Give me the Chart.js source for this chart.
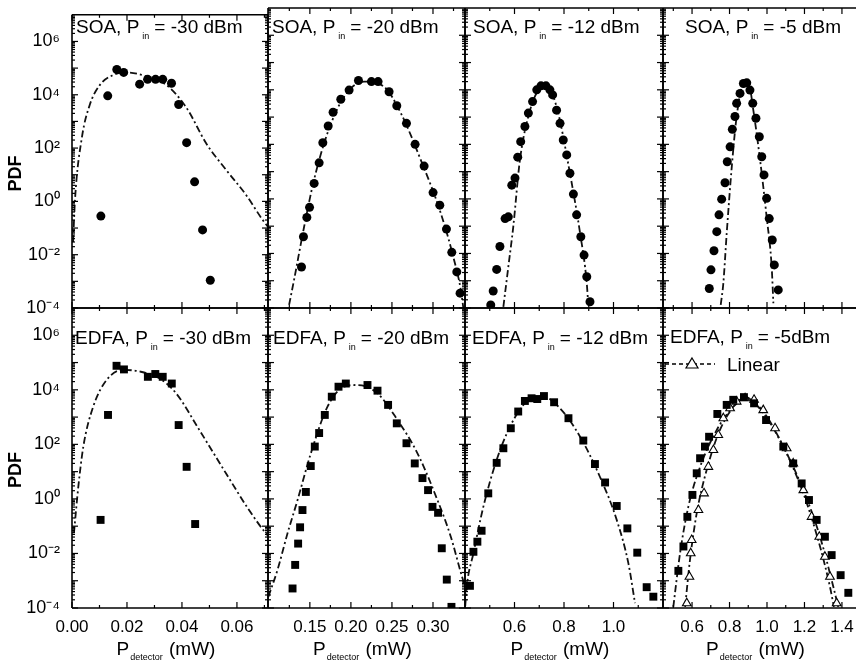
<!DOCTYPE html>
<html lang="en">
<head>
<meta charset="UTF-8">
<title>PDF of detected power - SOA and EDFA</title>
<script src="https://cdn.jsdelivr.net/npm/chart.js"></script>
<style>
  body { margin: 0; background: #fff; }
  .wrap { position: relative; width: 856px; height: 666px; overflow: hidden; }
  .wrap canvas { position: absolute; left: 0; top: 0; }
</style>
</head>
<body>
<div class="wrap">
  <canvas id="p1" width="856" height="666"></canvas>
  <canvas id="p2" width="856" height="666"></canvas>
  <canvas id="p3" width="856" height="666"></canvas>
  <canvas id="p4" width="856" height="666"></canvas>
  <canvas id="p5" width="856" height="666"></canvas>
  <canvas id="p6" width="856" height="666"></canvas>
  <canvas id="p7" width="856" height="666"></canvas>
  <canvas id="p8" width="856" height="666"></canvas>
</div>
<script>
  // --- data ---
  const yTicks = [1e-4, 1e-2, 1, 1e2, 1e4, 1e6];
  const yLabels = ['10⁻⁴', '10⁻²', '10⁰', '10²', '10⁴', '10⁶'];

  const xTicks30 = [0, 0.02, 0.04, 0.06];
  const xLabels30 = ['0.00', '0.02', '0.04', '0.06'];
  const xTicks20 = [0.15, 0.20, 0.25, 0.30];
  const xLabels20 = ['0.15', '0.20', '0.25', '0.30'];
  const xTicks12 = [0.6, 0.8, 1.0];
  const xLabels12 = ['0.6', '0.8', '1.0'];
  const xTicks5 = [0.6, 0.8, 1.0, 1.2, 1.4];
  const xLabels5 = ['0.6', '0.8', '1.0', '1.2', '1.4'];

  // SOA, Pin = -30 dBm
  const soa30X = [0.0105, 0.0130, 0.0163, 0.0188, 0.0246, 0.0275, 0.0304, 0.0330, 0.0362, 0.0388, 0.0417, 0.0446, 0.0475, 0.0503];
  const soa30Y = [0.28, 9.1e3, 8.9e4, 6.9e4, 2.5e4, 3.8e4, 3.8e4, 3.8e4, 2.7e4, 4.3e3, 160, 5.4, 0.085, 1.1e-3];
  const soa30FitX = [0.0004, 0.0011, 0.0036, 0.0065, 0.0101, 0.0148, 0.0199, 0.0257, 0.0344, 0.0416, 0.0489, 0.0561, 0.0634, 0.0691, 0.0713];
  const soa30FitY = [0.03, 1.2, 250, 4300, 2.3e4, 5.4e4, 6.9e4, 5.4e4, 2.3e4, 3300, 145, 15, 1.7, 0.22, 0.11];

  // SOA, Pin = -20 dBm
  const soa20X = [0.1398, 0.1422, 0.1463, 0.1496, 0.1552, 0.1613, 0.1658, 0.1723, 0.1783, 0.1877, 0.1978, 0.2092, 0.2250, 0.2331, 0.2465, 0.2559, 0.2677, 0.2782, 0.2892, 0.3001, 0.3083, 0.3164, 0.3229, 0.3290, 0.3330];
  const soa20Y = [3.2e-3, 0.041, 0.21, 0.49, 3.7, 21, 115, 470, 1500, 4500, 9800, 2.2e4, 2.0e4, 2.0e4, 8500, 2600, 590, 100, 16, 1.7, 0.59, 0.078, 0.011, 2.1e-3, 3.5e-4];
  const soa20FitX = [0.1247, 0.1308, 0.1430, 0.1550, 0.1715, 0.1917, 0.2160, 0.2404, 0.2608, 0.2851, 0.3095, 0.3257, 0.3339, 0.3370];
  const soa20FitY = [1.3e-4, 1.1e-3, 0.095, 4.9, 260, 5600, 2.0e4, 1.3e4, 1400, 27, 0.30, 5.8e-3, 4.6e-4, 1.0e-4];

  // SOA, Pin = -12 dBm
  const soa12X = [0.504, 0.514, 0.528, 0.541, 0.562, 0.575, 0.589, 0.602, 0.613, 0.625, 0.642, 0.656, 0.673, 0.690, 0.707, 0.727, 0.743, 0.754, 0.770, 0.784, 0.797, 0.811, 0.824, 0.838, 0.851, 0.868, 0.881, 0.892, 0.905];
  const soa12Y = [1.3e-4, 4.2e-4, 2.6e-3, 0.018, 0.19, 0.22, 3.2, 5.8, 34, 126, 450, 1400, 3700, 1.0e4, 1.4e4, 1.4e4, 1.0e4, 6500, 1800, 590, 145, 41, 8.7, 1.5, 0.26, 0.041, 8.7e-3, 1.4e-3, 1.7e-4];
  const soa12FitX = [0.555, 0.575, 0.595, 0.622, 0.663, 0.703, 0.730, 0.770, 0.824, 0.865, 0.892, 0.898];
  const soa12FitY = [1.1e-4, 3.2e-3, 0.095, 27, 1800, 1.15e4, 1.4e4, 2400, 8.7, 0.055, 8.1e-4, 1.3e-4];

  // SOA, Pin = -5 dBm
  const soa5X = [0.692, 0.701, 0.717, 0.732, 0.744, 0.758, 0.776, 0.788, 0.803, 0.815, 0.829, 0.838, 0.856, 0.874, 0.892, 0.909, 0.924, 0.941, 0.959, 0.972, 0.984, 0.998, 1.012, 1.028, 1.039, 1.060];
  const soa5Y = [5.2e-4, 2.5e-3, 0.0126, 0.063, 0.26, 0.98, 3.9, 23, 81, 355, 1050, 3200, 7400, 1.7e4, 1.8e4, 9800, 3200, 910, 190, 35, 7.6, 1.05, 0.19, 0.031, 3.8e-3, 4.6e-4];
  const soa5FitX = [0.753, 0.767, 0.785, 0.812, 0.838, 0.874, 0.900, 0.927, 0.963, 0.998, 1.025, 1.034];
  const soa5FitY = [1.3e-4, 8.1e-4, 0.055, 15, 1050, 1.7e4, 2.0e4, 1800, 27, 0.22, 3.2e-3, 1.5e-4];

  // EDFA, Pin = -30 dBm
  const edfa30X = [0.0104, 0.0131, 0.0162, 0.0189, 0.0276, 0.0303, 0.0330, 0.0363, 0.0388, 0.0417, 0.0448];
  const edfa30Y = [0.17, 1200, 7.6e4, 5.6e4, 3.0e4, 3.8e4, 3.0e4, 1.7e4, 510, 15, 0.12];
  const edfa30FitX = [0.0007, 0.0023, 0.0041, 0.0077, 0.0126, 0.0186, 0.0246, 0.0319, 0.0379, 0.0463, 0.0560, 0.0644, 0.0705, 0.0713];
  const edfa30FitY = [0.055, 2.8, 81, 2400, 2.3e4, 5.4e4, 4.7e4, 2.6e4, 7400, 340, 8.7, 0.39, 0.055, 0.045];

  // EDFA, Pin = -20 dBm
  const edfa20X = [0.1289, 0.1321, 0.1357, 0.1381, 0.1410, 0.1451, 0.1511, 0.1560, 0.1613, 0.1682, 0.1767, 0.1849, 0.1938, 0.2202, 0.2324, 0.2453, 0.2559, 0.2677, 0.2778, 0.2872, 0.2940, 0.2994, 0.3062, 0.3107, 0.3168, 0.3225];
  const edfa20Y = [5.2e-4, 3.8e-3, 0.023, 0.091, 0.39, 1.8, 16, 83, 260, 1200, 5600, 1.3e4, 1.7e4, 1.5e4, 9300, 2800, 590, 110, 20, 5.8, 2.1, 0.51, 0.31, 0.0155, 1.1e-3, 1.1e-4];
  const edfa20FitX = [0.0995, 0.1106, 0.1228, 0.1350, 0.1512, 0.1715, 0.1917, 0.2080, 0.2324, 0.2568, 0.2811, 0.3054, 0.3217, 0.3330, 0.3390];
  const edfa20FitY = [2.6e-4, 2.5e-3, 0.055, 0.91, 47, 2400, 1.3e4, 1.5e4, 7400, 780, 47, 0.91, 0.041, 2.5e-3, 6e-4];

  // EDFA, Pin = -12 dBm
  const edfa12X = [0.420, 0.434, 0.450, 0.467, 0.494, 0.528, 0.555, 0.585, 0.615, 0.642, 0.669, 0.692, 0.719, 0.760, 0.818, 0.878, 0.925, 0.966, 1.013, 1.056, 1.096, 1.134, 1.161];
  const edfa12Y = [6.5e-4, 0.0115, 0.027, 0.068, 1.6, 21, 72, 390, 1600, 3900, 4900, 4600, 5900, 3500, 910, 138, 19, 4.0, 0.55, 0.083, 0.0107, 5.8e-4, 2.6e-4];
  const edfa12FitX = [0.401, 0.407, 0.434, 0.474, 0.528, 0.582, 0.649, 0.716, 0.784, 0.865, 0.945, 1.013, 1.060, 1.087];
  const edfa12FitY = [1.2e-4, 6.0e-4, 0.0102, 0.51, 27, 450, 3700, 5600, 2100, 190, 6.5, 0.17, 4.4e-3, 1.5e-4];

  // EDFA, Pin = -5 dBm (filled) and Linear (open triangles)
  const edfa5X = [0.527, 0.554, 0.575, 0.602, 0.625, 0.643, 0.669, 0.691, 0.735, 0.785, 0.820, 0.877, 0.931, 0.995, 1.087, 1.140, 1.185, 1.224, 1.265, 1.309, 1.345, 1.393, 1.434];
  const edfa5Y = [2.3e-3, 0.018, 0.22, 1.4, 8.7, 31, 83, 190, 1300, 2800, 4300, 5400, 3200, 780, 83, 20, 3.7, 0.91, 0.17, 0.041, 8.7e-3, 1.6e-3, 3.6e-4];
  const edfa5FitX = [0.500, 0.536, 0.580, 0.643, 0.732, 0.820, 0.883, 0.980, 1.087, 1.194, 1.283, 1.354, 1.380];
  const edfa5FitY = [1.1e-4, 0.0102, 0.51, 15, 340, 2400, 5400, 1400, 83, 2.1, 0.041, 6.0e-4, 1.1e-4];
  const linX = [0.572, 0.586, 0.593, 0.598, 0.634, 0.664, 0.687, 0.714, 0.740, 0.767, 0.803, 0.838, 0.883, 0.931, 0.980, 1.043, 1.105, 1.140, 1.194, 1.238, 1.279, 1.309, 1.336, 1.372];
  const linY = [1.5e-4, 1.4e-3, 0.0102, 0.031, 0.39, 1.6, 15, 62, 220, 910, 2100, 3700, 4900, 4300, 1800, 390, 72, 20, 2.1, 0.22, 0.041, 7.6e-3, 1.4e-3, 1.5e-4];
  const linFitX = [0.563, 0.589, 0.625, 0.678, 0.749, 0.838, 0.892, 0.980, 1.087, 1.194, 1.283, 1.336, 1.357];
  const linFitY = [1.1e-4, 5.8e-3, 0.30, 11.5, 340, 3200, 4900, 1600, 83, 1.6, 0.018, 6.0e-4, 1.1e-4];

  // --- drawing ---
  const W = 856, H = 666;
  const FONT = "'Liberation Sans', Arial, sans-serif";
  Chart.defaults.color = '#000';
  Chart.defaults.font.family = FONT;

  function pts(xs, ys) {
    return xs.map((x, i) => ({ x: x, y: ys[i] }));
  }

  function dots(xs, ys, style) {
    return {
      type: 'scatter', data: pts(xs, ys), showLine: false,
      pointStyle: style, pointRadius: style === 'rect' ? 5.6 : 4.5,
      backgroundColor: '#000', borderColor: '#000', borderWidth: 0
    };
  }

  function openTri(xs, ys) {
    return {
      type: 'scatter', data: pts(xs, ys), showLine: false,
      pointStyle: 'triangle', pointRadius: 5,
      backgroundColor: '#fff', borderColor: '#000', borderWidth: 1.1
    };
  }

  function fit(xs, ys) {
    return {
      type: 'line', data: pts(xs, ys), showLine: true, pointRadius: 0,
      borderColor: '#111', borderWidth: 1.8, borderDash: [7, 3, 2, 3],
      cubicInterpolationMode: 'monotone', fill: false
    };
  }

  // draws a run of text pieces (for subscripts), returns end x
  function drawRuns(ctx, x, y, runs) {
    runs.forEach(r => {
      x += r.pre || 0;
      ctx.font = r.font;
      ctx.fillText(r.t, x, y + (r.dy || 0));
      x += ctx.measureText(r.t).width;
    });
    return x;
  }

  function runsWidth(ctx, runs) {
    let w = 0;
    runs.forEach(r => { ctx.font = r.font; w += (r.pre || 0) + ctx.measureText(r.t).width; });
    return w;
  }

  const panelDecor = {
    id: 'panelDecor',
    afterDraw(chart, args, o) {
      const ctx = chart.ctx, a = chart.chartArea;
      const xs = chart.scales.x, ys = chart.scales.y;
      const line = (x1, y1, x2, y2) => { ctx.beginPath(); ctx.moveTo(x1, y1); ctx.lineTo(x2, y2); ctx.stroke(); };
      ctx.save();
      ctx.strokeStyle = '#000';
      ctx.fillStyle = '#000';

      // frame
      ctx.lineWidth = 1.6;
      line(a.left, a.top, a.right, a.top);
      line(a.left, a.bottom, a.right, a.bottom);
      line(a.left, a.top, a.left, a.bottom);
      if (!o.lastCol) line(a.right, a.top, a.right, a.bottom);

      // inward ticks
      ctx.lineWidth = 1.2;
      for (let k = -4; k < 7; k++) {
        for (let m = 1; m < 10; m++) {
          const py = ys.getPixelForValue(m * Math.pow(10, k));
          const len = m === 1 ? 6 : 3;
          line(a.left, py, a.left + len, py);
          if (!o.lastCol) line(a.right, py, a.right - len, py);
        }
      }
      o.xMajor.forEach(v => {
        const px = xs.getPixelForValue(v);
        line(px, a.bottom, px, a.bottom - 6);
        line(px, a.top, px, a.top + 6);
      });
      o.xMinor.forEach(v => {
        const px = xs.getPixelForValue(v);
        line(px, a.bottom, px, a.bottom - 3);
        line(px, a.top, px, a.top + 3);
      });

      // panel title with subscript
      ctx.textBaseline = 'alphabetic';
      drawRuns(ctx, a.left + o.titleDx, o.titleY, [
        { t: o.amp + ', P', font: '19px ' + FONT },
        { t: 'in', font: '9px ' + FONT, dy: 6, pre: 3 },
        { t: o.rest, font: '19px ' + FONT, pre: 5 }
      ]);

      // legend for the linear case
      if (o.legend) {
        const ly = 364;
        ctx.lineWidth = 1.5;
        ctx.setLineDash([4, 3]);
        line(a.left + 2, ly, a.left + 52, ly);
        ctx.setLineDash([]);
        const cx = a.left + 29;
        ctx.fillStyle = '#fff';
        ctx.lineWidth = 1.2;
        ctx.beginPath();
        ctx.moveTo(cx, ly - 6);
        ctx.lineTo(cx + 6, ly + 4);
        ctx.lineTo(cx - 6, ly + 4);
        ctx.closePath();
        ctx.fill();
        ctx.stroke();
        ctx.fillStyle = '#000';
        ctx.font = '19px ' + FONT;
        ctx.fillText('Linear', a.left + 64, 371);
      }

      // x title under bottom row
      if (o.xTitle) {
        const runs = [
          { t: 'P', font: '19px ' + FONT },
          { t: 'detector', font: '9px ' + FONT, dy: 5, pre: 1 },
          { t: ' (mW)', font: '19px ' + FONT, pre: 1 }
        ];
        const w = runsWidth(ctx, runs);
        drawRuns(ctx, (a.left + a.right) / 2 - w / 2 - 4, 655, runs);
      }

      // y title
      if (o.yTitle) {
        ctx.save();
        ctx.translate(21, (a.top + a.bottom) / 2 + 12);
        ctx.rotate(-Math.PI / 2);
        ctx.font = 'bold 18px ' + FONT;
        ctx.textAlign = 'center';
        ctx.fillText('PDF', 0, 0);
        ctx.restore();
      }
      ctx.restore();
    }
  };

  const cols = [
    { left: 72, right: 268, min: 0, max: 0.0713, ticks: xTicks30, labels: xLabels30, minor: [0.01, 0.03, 0.05, 0.07] },
    { left: 268, right: 465, min: 0.099, max: 0.339, ticks: xTicks20, labels: xLabels20, minor: [0.125, 0.175, 0.225, 0.275, 0.325] },
    { left: 465, right: 663, min: 0.4, max: 1.2, ticks: xTicks12, labels: xLabels12, minor: [0.5, 0.7, 0.9, 1.1] },
    { left: 663, right: 856, min: 0.445, max: 1.475, ticks: xTicks5, labels: xLabels5, minor: [0.5, 0.7, 0.9, 1.1, 1.3] }
  ];
  const rows = [
    { top: 8, bottom: 308, amp: 'SOA', titleY: 33 },
    { top: 308, bottom: 608, amp: 'EDFA', titleY: 344 }
  ];

  const panels = [
    { id: 'p1', r: 0, c: 0, rest: '= -30 dBm', dx: 4, sets: [dots(soa30X, soa30Y, 'circle'), fit(soa30FitX, soa30FitY)] },
    { id: 'p2', r: 0, c: 1, rest: '= -20 dBm', dx: 4, sets: [dots(soa20X, soa20Y, 'circle'), fit(soa20FitX, soa20FitY)] },
    { id: 'p3', r: 0, c: 2, rest: '= -12 dBm', dx: 8, sets: [dots(soa12X, soa12Y, 'circle'), fit(soa12FitX, soa12FitY)] },
    { id: 'p4', r: 0, c: 3, rest: '= -5 dBm', dx: 22, sets: [dots(soa5X, soa5Y, 'circle'), fit(soa5FitX, soa5FitY)] },
    { id: 'p5', r: 1, c: 0, rest: '= -30 dBm', dx: 3, sets: [dots(edfa30X, edfa30Y, 'rect'), fit(edfa30FitX, edfa30FitY)] },
    { id: 'p6', r: 1, c: 1, rest: '= -20 dBm', dx: 5, sets: [dots(edfa20X, edfa20Y, 'rect'), fit(edfa20FitX, edfa20FitY)] },
    { id: 'p7', r: 1, c: 2, rest: '= -12 dBm', dx: 7, sets: [dots(edfa12X, edfa12Y, 'rect'), fit(edfa12FitX, edfa12FitY)] },
    { id: 'p8', r: 1, c: 3, rest: '= -5dBm', dx: 7, legend: true,
      sets: [dots(edfa5X, edfa5Y, 'rect'), openTri(linX, linY), fit(edfa5FitX, edfa5FitY), fit(linFitX, linFitY)] }
  ];

  panels.forEach(p => {
    const col = cols[p.c], row = rows[p.r];
    const showX = p.r === 1, showY = p.c === 0;
    const xScale = {
      type: 'linear', min: col.min, max: col.max, display: showX,
      afterBuildTicks: s => { s.ticks = col.ticks.map(v => ({ value: v })); },
      grid: { display: false }, border: { display: false },
      ticks: { autoSkip: false, maxRotation: 0, padding: 1, font: { size: 17 }, color: '#000',
               callback: (v, i) => col.labels[i] }
    };
    if (showX) xScale.afterFit = s => { s.height = H - row.bottom; };
    const yScale = {
      type: 'logarithmic', min: 1e-4, max: 1e7, display: showY,
      afterBuildTicks: s => { s.ticks = yTicks.map(v => ({ value: v })); },
      grid: { display: false }, border: { display: false },
      ticks: { autoSkip: false, padding: 4, font: { size: 18 }, color: '#000',
               callback: (v, i) => yLabels[i] }
    };
    if (showY) yScale.afterFit = s => { s.width = col.left; };

    new Chart(document.getElementById(p.id), {
      type: 'scatter',
      data: { datasets: p.sets },
      options: {
        responsive: false,
        devicePixelRatio: 1,
        animation: false,
        events: [],
        layout: {
          autoPadding: false,
          padding: {
            left: showY ? 0 : col.left,
            top: row.top,
            right: W - col.right,
            bottom: showX ? 0 : H - row.bottom
          }
        },
        plugins: {
          legend: { display: false },
          tooltip: { enabled: false },
          panelDecor: {
            amp: row.amp, rest: p.rest, titleDx: p.dx, titleY: p.r === 1 && p.c === 3 ? 343 : row.titleY,
            xMajor: col.ticks, xMinor: col.minor, lastCol: p.c === 3,
            legend: !!p.legend, xTitle: showX, yTitle: showY
          }
        },
        scales: { x: xScale, y: yScale }
      },
      plugins: [panelDecor]
    });
  });
</script>
</body>
</html>
